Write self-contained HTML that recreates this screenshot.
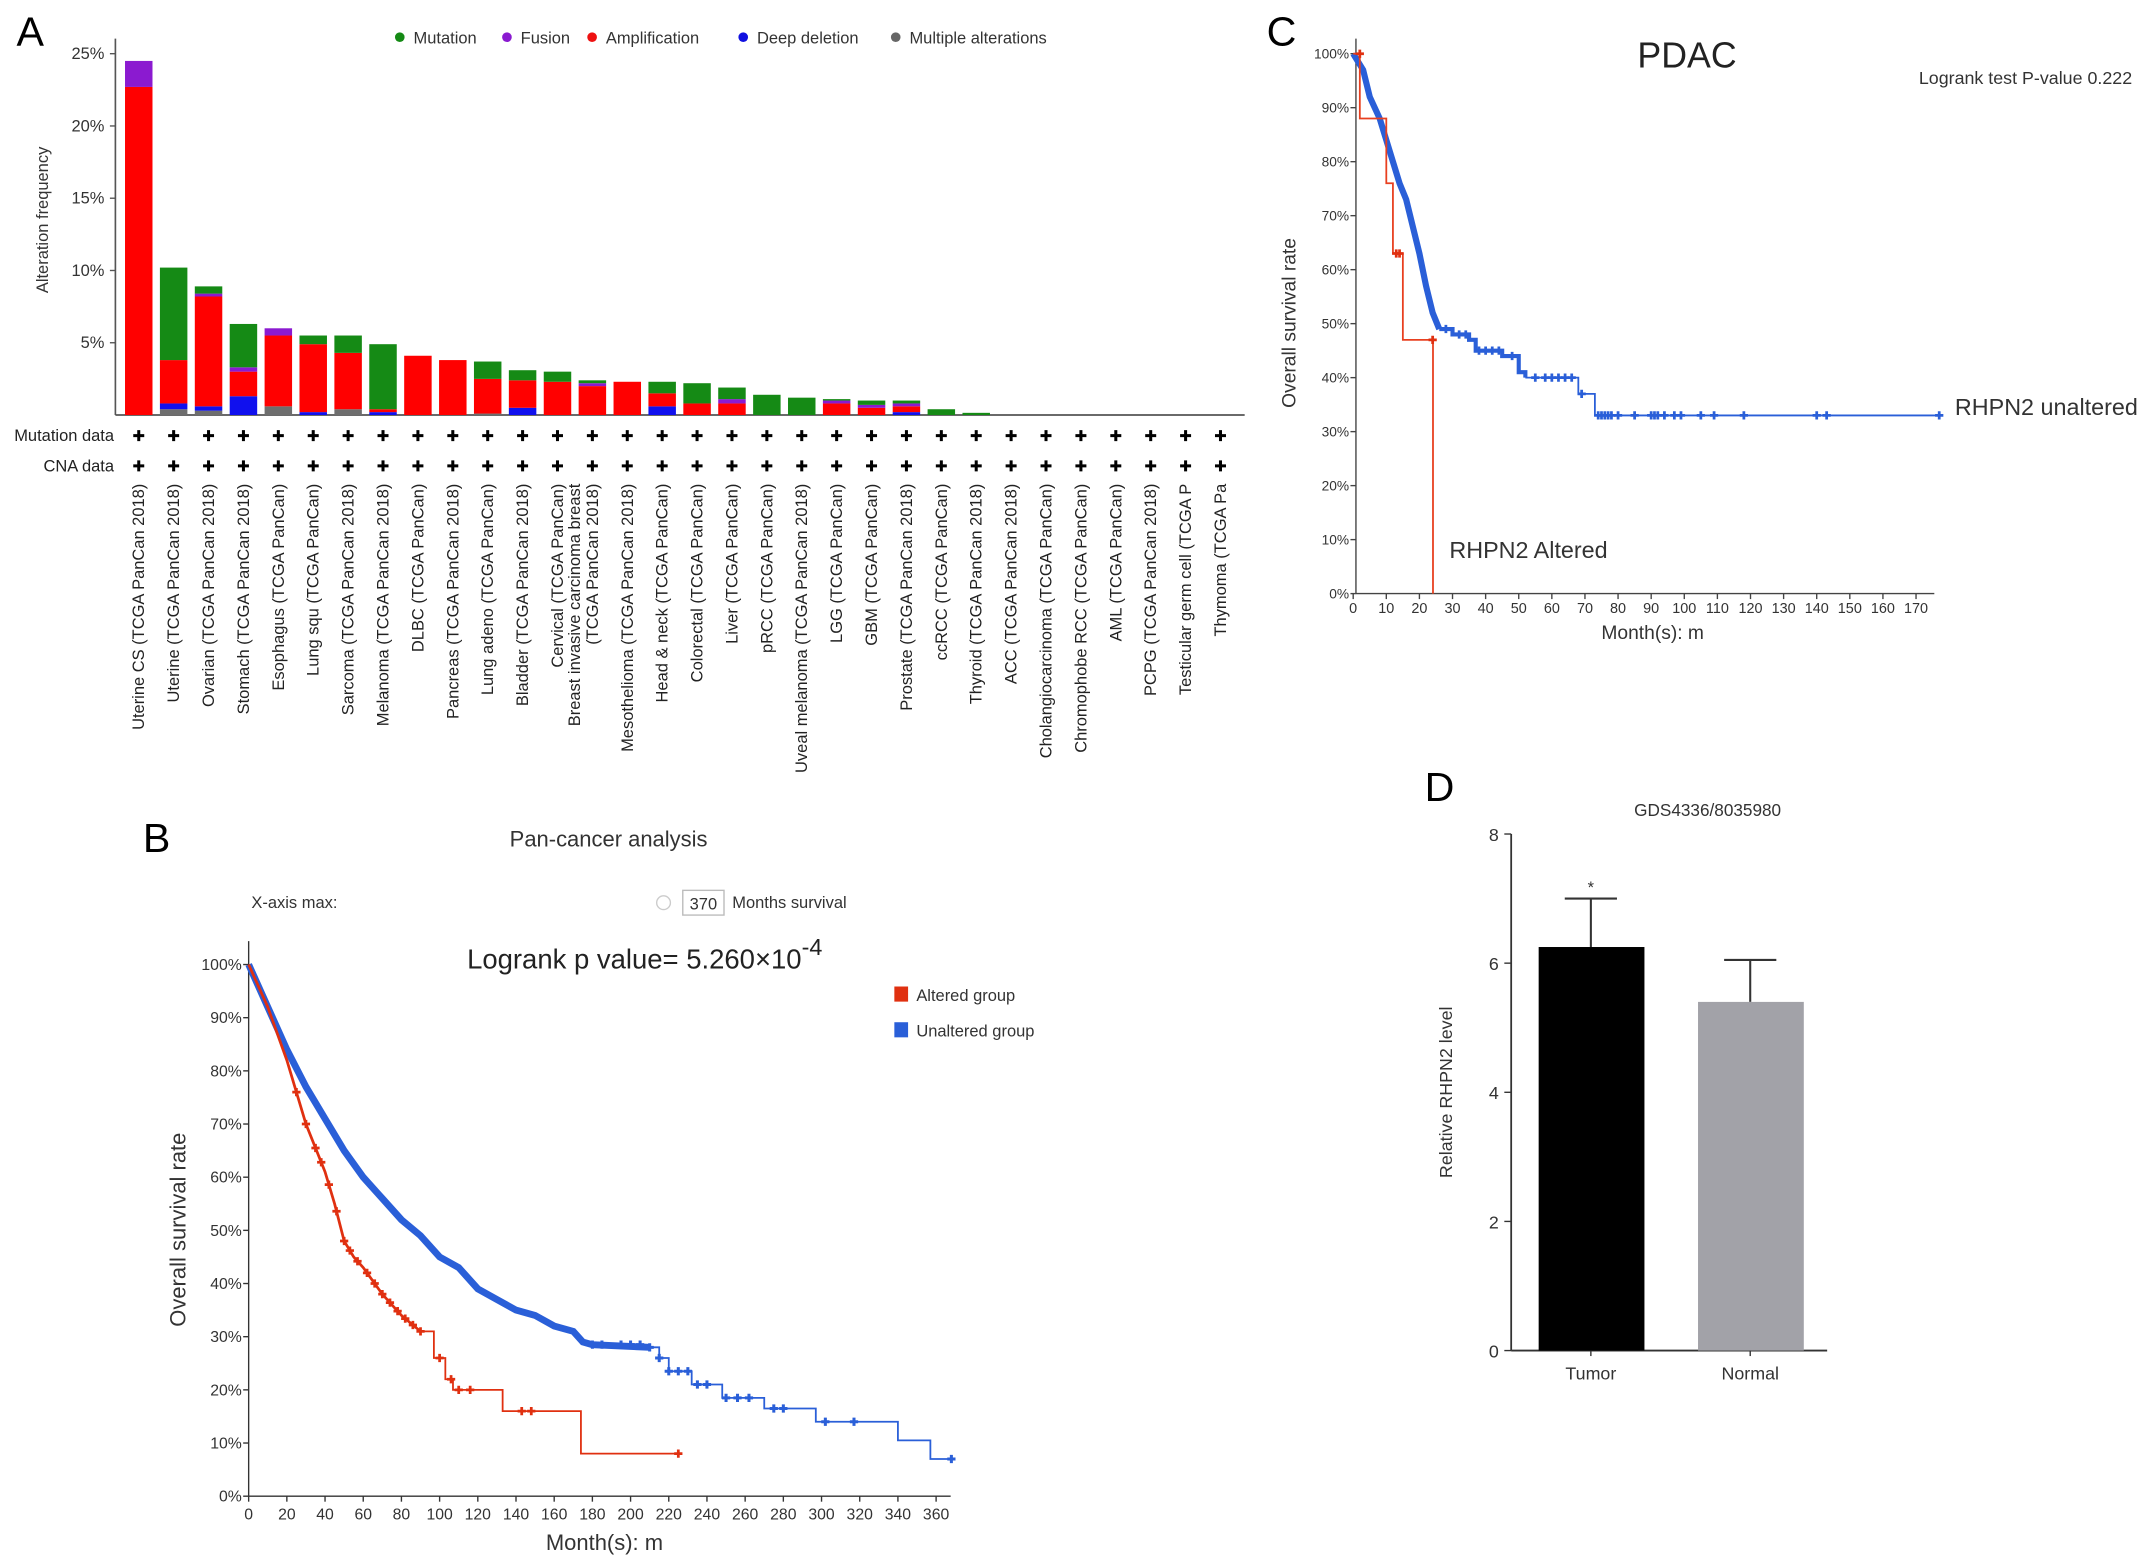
<!DOCTYPE html>
<html><head><meta charset="utf-8">
<style>
html,body{margin:0;padding:0;background:#fff;}
svg{display:block;font-family:"Liberation Sans",Arial,sans-serif;}
</style></head>
<body>
<svg id="fig" width="2150" height="1565" viewBox="0 0 1565 1139" xmlns="http://www.w3.org/2000/svg">
<rect width="1565" height="1139" fill="#fff"/>
<g id="pA"></g>
<g id="pB"></g>
<g id="pC"></g>
<g id="pD"></g>
</svg>
<script>
// ---------- Panel A data ----------
const catsA = ["Uterine CS (TCGA PanCan 2018)","Uterine (TCGA PanCan 2018)","Ovarian (TCGA PanCan 2018)","Stomach (TCGA PanCan 2018)","Esophagus (TCGA PanCan)","Lung squ (TCGA PanCan)","Sarcoma (TCGA PanCan 2018)","Melanoma (TCGA PanCan 2018)","DLBC (TCGA PanCan)","Pancreas (TCGA PanCan 2018)","Lung adeno (TCGA PanCan)","Bladder (TCGA PanCan 2018)","Cervical (TCGA PanCan)","Breast invasive carcinoma breast|(TCGA PanCan 2018)","Mesothelioma (TCGA PanCan 2018)","Head & neck (TCGA PanCan)","Colorectal (TCGA PanCan)","Liver (TCGA PanCan)","pRCC (TCGA PanCan)","Uveal melanoma (TCGA PanCan 2018)","LGG (TCGA PanCan)","GBM (TCGA PanCan)","Prostate (TCGA PanCan 2018)","ccRCC (TCGA PanCan)","Thyroid (TCGA PanCan 2018)","ACC (TCGA PanCan 2018)","Cholangiocarcinoma (TCGA PanCan)","Chromophobe RCC (TCGA PanCan)","AML (TCGA PanCan)","PCPG (TCGA PanCan 2018)","Testicular germ cell (TCGA P","Thymoma (TCGA Pa"];
const multipleA = [0,0.4,0.3,0,0.6,0,0.4,0,0,0,0.1,0,0,0,0,0,0,0,0,0,0,0,0,0,0,0,0,0,0,0,0,0];
const deepDelA  = [0,0.4,0.3,1.3,0,0.2,0,0.2,0,0,0,0.5,0,0,0,0.6,0,0,0,0,0,0,0.2,0,0,0,0,0,0,0,0,0];
const ampA      = [22.7,3.0,7.6,1.7,4.9,4.7,3.9,0.2,4.1,3.8,2.4,1.9,2.3,2.0,2.3,0.9,0.8,0.8,0,0,0.8,0.5,0.4,0,0,0,0,0,0,0,0,0];
const fusionA   = [1.8,0,0.2,0.3,0.5,0,0,0,0,0,0,0,0,0.2,0,0,0,0.3,0,0,0.2,0.2,0.2,0,0,0,0,0,0,0,0,0];
const mutationA = [0,6.4,0.5,3.0,0,0.6,1.2,4.5,0,0,1.2,0.7,0.7,0.2,0,0.8,1.4,0.8,1.4,1.2,0.1,0.3,0.2,0.4,0.15,0,0,0,0,0,0,0];
const yTicksA = [5,10,15,20,25];

// ---------- Panel B data ----------
const bUnalteredT = [0,10,20,30,40,50,60,70,80,90,100,110,120,130,140,150,160,170,175,180,210,215,220,232,248,270,297,340,357,368];
const bUnalteredS = [100,92,84,77,71,65,60,56,52,49,45,43,39,37,35,34,32,31,29,28.5,28,26,23.5,21,18.5,16.5,14,10.5,7,7];
const bAlteredT = [0,10,20,30,40,45,50,55,60,70,80,90,97,103,107,133,174,225];
const bAlteredS = [100,92,82,70,61,55,48,45,43,38,34,31,26,22,20,16,8,8];
const bCensorAltT = [25,30,35,38,42,46,50,53,57,62,66,70,74,78,82,86,90,100,106,110,116,143,148,225];
const bCensorUnT = [180,185,195,200,205,210,215,220,225,230,235,240,250,256,262,275,280,302,317,368];
const bXTicks = [0,20,40,60,80,100,120,140,160,180,200,220,240,260,280,300,320,340,360];
const pctTicks = [0,10,20,30,40,50,60,70,80,90,100];

// ---------- Panel C data ----------
const cUnalteredT = [0,3,5,8,10,12,14,16,18,20,22,24,26,30,35,37,45,50,52,67,68,71,73,177];
const cUnalteredS = [100,97,92,88,84,80,76,73,68,63,57,52,49,48,47,45,44,41,40,40,37,37,33,33];
const cAlteredT = [0,2,10,12,15,24,24.1];
const cAlteredS = [100,88,76,63,47,47,0];
const cCensorUnT = [28,32,34,38,40,42,44,48,55,58,60,62,64,66,69,74,75,76,77,78,80,85,90,91,92,94,97,99,105,109,118,140,143,177];
const cCensorAltT = [2,13,14,24];
const cXTicks = [0,10,20,30,40,50,60,70,80,90,100,110,120,130,140,150,160,170];

// ---------- Panel D data ----------
const dGroups = ["Tumor","Normal"];
const dMeans = [6.25,5.4];
const dErr = [0.75,0.65];
const dTicks = [0,2,4,6,8];

const NS="http://www.w3.org/2000/svg";
function mk(parent,tag,attrs,text){const e=document.createElementNS(NS,tag);for(const k in attrs)e.setAttribute(k,attrs[k]);if(text!==undefined)e.textContent=text;parent.appendChild(e);return e;}
function cross(g,x,y,r,col,w){return mk(g,'path',{d:`M${x-r},${y}H${x+r}M${x},${y-r}V${y+r}`,stroke:col,'stroke-width':w,fill:'none'});}

// ===== Panel A =====
(function(){
const g=document.getElementById('pA');
const yA=v=>302-v*52.6/5, xA=i=>101+i*25.4;
let t=mk(g,'text',{x:12,y:33,'font-size':30},'A');

mk(g,'line',{x1:84,y1:28,x2:84,y2:302,stroke:'#555','stroke-width':1.2});
mk(g,'line',{x1:84,y1:302,x2:906,y2:302,stroke:'#555','stroke-width':1.2});
yTicksA.forEach(v=>{mk(g,'line',{x1:80,y1:yA(v),x2:84,y2:yA(v),stroke:'#555'});
 const e=mk(g,'text',{x:76,y:yA(v)+4,'font-size':12,'text-anchor':'end',fill:'#333'},v+'%');
 });
t=mk(g,'text',{transform:'translate(35,160) rotate(-90)','font-size':12,'text-anchor':'middle',fill:'#333'},'Alteration frequency');

const leg=[['Mutation','#148a14',291],['Fusion','#8a1ad0',369],['Amplification','#ee1111',431],['Deep deletion','#1010e0',541],['Multiple alterations','#666',652]];
leg.forEach(l=>{const lg=mk(g,'g',{});
 mk(lg,'circle',{cx:l[2],cy:27,r:3.5,fill:l[1]});mk(lg,'text',{x:l[2]+10,y:31.5,'font-size':12,fill:'#333'},l[0]);});
const series=[[multipleA,'#6e6e6e'],[deepDelA,'#1010ee'],[ampA,'#ff0000'],[fusionA,'#8b1ad0'],[mutationA,'#158a15']];
catsA.forEach((c,i)=>{let base=0;
 series.forEach(s=>{const v=s[0][i];if(v>0){const r=mk(g,'rect',{x:xA(i)-10,y:yA(base+v),width:20,height:yA(base)-yA(base+v),fill:s[1]});
  }base+=v;});
 cross(g,xA(i),317,4,'#000',2.2);cross(g,xA(i),339,4,'#000',2.2);
 const parts=c.split('|');
 parts.forEach((p,k)=>{const off=(parts.length-1-k)*13;const e=mk(g,'text',{transform:`translate(${xA(i)+4-off},352) rotate(-90)`,'font-size':12,'text-anchor':'end',fill:'#222'},p);
  });
});
t=mk(g,'text',{x:83,y:321,'font-size':12,'text-anchor':'end',fill:'#222'},'Mutation data');
t=mk(g,'text',{x:83,y:343,'font-size':12,'text-anchor':'end',fill:'#222'},'CNA data');
})();

function stepPath(T,S,x,y){let d=`M${x(T[0])},${y(S[0])}`;for(let i=1;i<T.length;i++){d+=`H${x(T[i])}V${y(S[i])}`;}return d;}
function survAt(T,S,t){let s=S[0];for(let i=0;i<T.length;i++){if(T[i]<=t)s=S[i];}return s;}
function linPath(T,S,x,y){return T.map((t,i)=>(i?'L':'M')+x(t)+','+y(S[i])).join('');}

// ===== Panel B =====
(function(){
const g=document.getElementById('pB');
const x=t=>181+t*27.8/20, y=v=>1089-v*3.87;
let t=mk(g,'text',{x:104,y:620,'font-size':30},'B');
t=mk(g,'text',{x:443,y:616,'font-size':16,'text-anchor':'middle',fill:'#333'},'Pan-cancer analysis');
t=mk(g,'text',{x:183,y:661,'font-size':12,fill:'#333'},'X-axis max:');
t=mk(g,'circle',{cx:483,cy:657,r:5,fill:'none',stroke:'#ccc'});
t=mk(g,'rect',{x:497,y:648,width:30,height:18,fill:'#fff',stroke:'#bbb'});
mk(g,'text',{x:502,y:662,'font-size':12,fill:'#333'},'370');
t=mk(g,'text',{x:533,y:661,'font-size':12,fill:'#333'},'Months survival');
t=mk(g,'text',{x:340,y:705,'font-size':20,fill:'#222'});
t.innerHTML='Logrank p value=  5.260×10<tspan dy="-10" font-size="17">-4</tspan>';
[['Altered group','#e03010',724],['Unaltered group','#2a5fd8',750]].forEach(l=>{const lg=mk(g,'g',{});
 mk(lg,'rect',{x:651,y:l[2]-6,width:10,height:11,fill:l[1]});mk(lg,'text',{x:667,y:l[2]+4.5,'font-size':12,fill:'#333'},l[0]);});
mk(g,'line',{x1:181,y1:685,x2:181,y2:1089,stroke:'#333'});
mk(g,'line',{x1:181,y1:1089,x2:692,y2:1089,stroke:'#333'});
pctTicks.forEach(v=>{mk(g,'line',{x1:177,y1:y(v),x2:181,y2:y(v),stroke:'#333'});
 const e=mk(g,'text',{x:176,y:y(v)+4,'font-size':11.5,'text-anchor':'end',fill:'#333'},v+'%');});
bXTicks.forEach(v=>{mk(g,'line',{x1:x(v),y1:1089,x2:x(v),y2:1093,stroke:'#333'});
 const e=mk(g,'text',{x:x(v),y:1106,'font-size':11.5,'text-anchor':'middle',fill:'#333'},v);});
t=mk(g,'text',{x:440,y:1128,'font-size':16,'text-anchor':'middle',fill:'#333'},'Month(s): m');
t=mk(g,'text',{transform:'translate(135,895) rotate(-90)','font-size':16,'text-anchor':'middle',fill:'#333'},'Overall survival rate');
const iSplit=bUnalteredT.indexOf(210);
let p=mk(g,'path',{d:linPath(bUnalteredT.slice(0,iSplit+1),bUnalteredS.slice(0,iSplit+1),x,y),stroke:'#2a5fd8','stroke-width':5,fill:'none'});

p=mk(g,'path',{d:stepPath(bUnalteredT.slice(iSplit),bUnalteredS.slice(iSplit),x,y),stroke:'#2a5fd8','stroke-width':1.3,fill:'none'});

p=mk(g,'path',{d:linPath(bAlteredT.slice(0,12),bAlteredS.slice(0,12),x,y),stroke:'#e03010','stroke-width':2,fill:'none'});

p=mk(g,'path',{d:stepPath(bAlteredT.slice(11),bAlteredS.slice(11),x,y),stroke:'#e03010','stroke-width':1.3,fill:'none'});

bCensorAltT.forEach(tt=>{const s=tt<=90?null:survAt(bAlteredT,bAlteredS,tt);
 let sv=s;if(sv===null){for(let i=1;i<bAlteredT.length;i++){if(bAlteredT[i]>=tt){const a=bAlteredT[i-1],b=bAlteredT[i];sv=bAlteredS[i-1]+(bAlteredS[i]-bAlteredS[i-1])*(tt-a)/(b-a);break;}}}
 const c=cross(g,x(tt),y(sv),3,'#e03010',2);});
bCensorUnT.forEach(tt=>{const c=cross(g,x(tt),y(survAt(bUnalteredT,bUnalteredS,tt)),3,'#2a5fd8',2.2);});
})();

// ===== Panel C =====
(function(){
const g=document.getElementById('pC');
const x=t=>985+t*2.41, y=v=>432-v*3.93;
let t=mk(g,'text',{x:922,y:33,'font-size':30},'C');
t=mk(g,'text',{x:1228,y:49,'font-size':26,'text-anchor':'middle',fill:'#222'},'PDAC');
t=mk(g,'text',{x:1552,y:61,'font-size':13,'text-anchor':'end',fill:'#333'},'Logrank test P-value 0.222');
mk(g,'line',{x1:987,y1:28,x2:987,y2:432,stroke:'#444'});
mk(g,'line',{x1:987,y1:432,x2:1408,y2:432,stroke:'#444'});
pctTicks.forEach(v=>{mk(g,'line',{x1:983,y1:y(v),x2:987,y2:y(v),stroke:'#444'});
 const e=mk(g,'text',{x:982,y:y(v)+3.5,'font-size':10,'text-anchor':'end',fill:'#333'},v+'%');});
cXTicks.forEach(v=>{mk(g,'line',{x1:x(v),y1:432,x2:x(v),y2:436,stroke:'#444'});
 const e=mk(g,'text',{x:x(v),y:446,'font-size':10.5,'text-anchor':'middle',fill:'#333'},v);});
t=mk(g,'text',{x:1203,y:465,'font-size':14,'text-anchor':'middle',fill:'#333'},'Month(s): m');
t=mk(g,'text',{transform:'translate(943,235) rotate(-90)','font-size':14,'text-anchor':'middle',fill:'#333'},'Overall survival rate');
let p=mk(g,'path',{d:linPath(cUnalteredT.slice(0,13),cUnalteredS.slice(0,13),x,y),stroke:'#2a5fd8','stroke-width':4.5,fill:'none'});

p=mk(g,'path',{d:stepPath(cUnalteredT.slice(12,19),cUnalteredS.slice(12,19),x,y),stroke:'#2a5fd8','stroke-width':3,fill:'none'});

p=mk(g,'path',{d:stepPath(cUnalteredT.slice(18),cUnalteredS.slice(18),x,y),stroke:'#2a5fd8','stroke-width':1.3,fill:'none'});

p=mk(g,'path',{d:stepPath(cAlteredT,cAlteredS,x,y),stroke:'#e84020','stroke-width':1.3,fill:'none'});

cCensorUnT.forEach(tt=>{const c=cross(g,x(tt),y(survAt(cUnalteredT,cUnalteredS,tt)),3,'#2a5fd8',2);});
cCensorAltT.forEach(tt=>{const c=cross(g,x(tt),y(survAt(cAlteredT,cAlteredS,tt-0.01)),3,'#e03010',2);});
t=mk(g,'text',{x:1423,y:302,'font-size':17,fill:'#333'},'RHPN2 unaltered');
t=mk(g,'text',{x:1055,y:406,'font-size':17,fill:'#333'},'RHPN2 Altered');
})();

// ===== Panel D =====
(function(){
const g=document.getElementById('pD');
const y=v=>983-v*47, xc=[1158,1274];
let t=mk(g,'text',{x:1037,y:583,'font-size':30},'D');
t=mk(g,'text',{x:1243,y:594,'font-size':12.5,'text-anchor':'middle',fill:'#333'},'GDS4336/8035980');
mk(g,'line',{x1:1100,y1:y(8),x2:1100,y2:983,stroke:'#333','stroke-width':1.3});
mk(g,'line',{x1:1100,y1:983,x2:1330,y2:983,stroke:'#333','stroke-width':1.3});
dTicks.forEach(v=>{mk(g,'line',{x1:1095,y1:y(v),x2:1100,y2:y(v),stroke:'#333'});
 const e=mk(g,'text',{x:1091,y:y(v)+5,'font-size':13,'text-anchor':'end',fill:'#333'},v);});
t=mk(g,'text',{transform:'translate(1057,795) rotate(-90)','font-size':13,'text-anchor':'middle',fill:'#333'},'Relative RHPN2 level');
const cols=['#000','#a2a2a8'];
dGroups.forEach((n,i)=>{
 mk(g,'line',{x1:xc[i],y1:y(dMeans[i]+dErr[i]),x2:xc[i],y2:y(dMeans[i]),stroke:'#333','stroke-width':1.5});
 mk(g,'line',{x1:xc[i]-19,y1:y(dMeans[i]+dErr[i]),x2:xc[i]+19,y2:y(dMeans[i]+dErr[i]),stroke:'#333','stroke-width':1.5});
 const r=mk(g,'rect',{x:xc[i]-38,y:y(dMeans[i]),width:77,height:983-y(dMeans[i]),fill:cols[i]});
 
 mk(g,'line',{x1:xc[i],y1:983,x2:xc[i],y2:987,stroke:'#333'});
 const e=mk(g,'text',{x:xc[i],y:1004,'font-size':13,'text-anchor':'middle',fill:'#333'},n);});
t=mk(g,'text',{x:xc[0],y:y(dMeans[0]+dErr[0])-4,'font-size':12,'text-anchor':'middle',fill:'#333'},'*');
})();
</script>
</body></html>
